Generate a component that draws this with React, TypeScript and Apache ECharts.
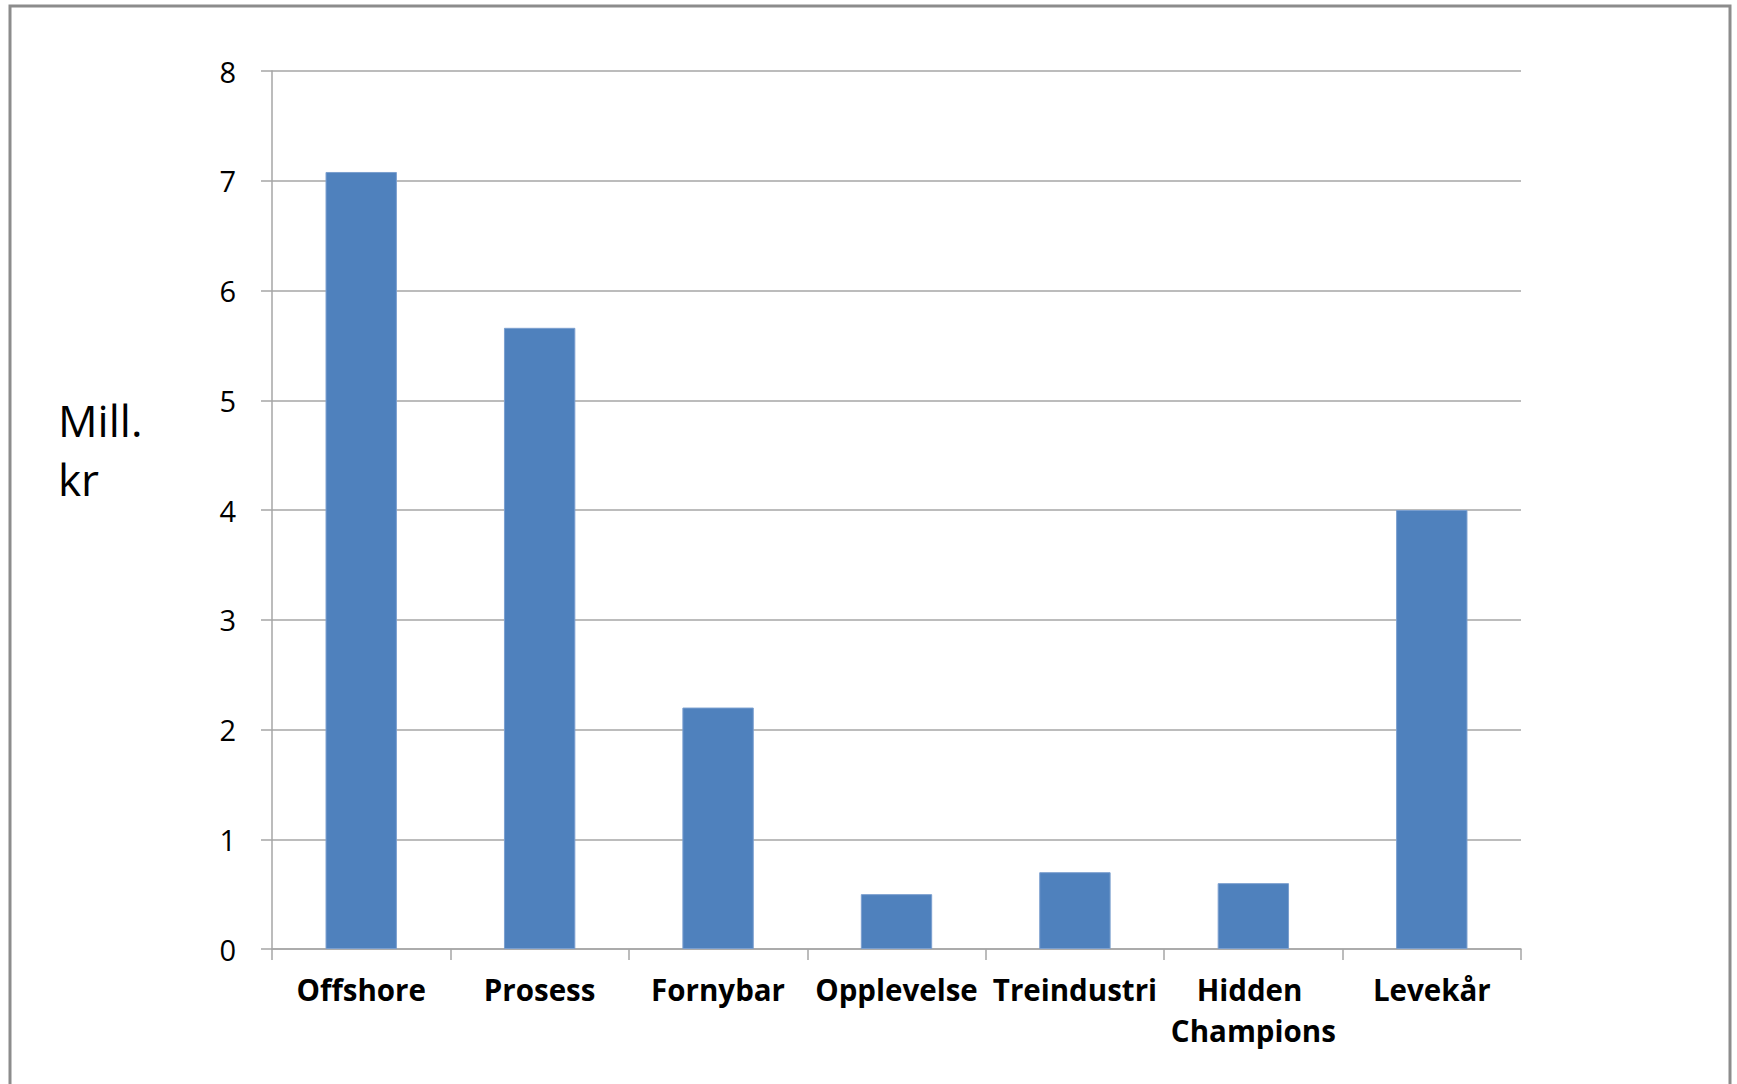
import React, { useEffect, useRef } from "react";
import * as echarts from "echarts";

const categories = ["Offshore", "Prosess", "Fornybar", "Opplevelse", "Treindustri", "Hidden Champions", "Levekår"];
const values = [7.08, 5.66, 2.2, 0.5, 0.7, 0.6, 4.0];
const yTicks = { min: 0, max: 8, interval: 1 };
const yLabelLines = ["Mill.", "kr"];

export default function App() {
  const ref = useRef<HTMLDivElement>(null);
  useEffect(() => {
    document.body.style.margin = "0";
    const chart = echarts.init(ref.current!, undefined, { renderer: "svg" });
    const font = "'Open Sans', 'Noto Sans', sans-serif";
    chart.setOption({
      animation: false,
      backgroundColor: "#ffffff",
      textStyle: { fontFamily: font },
      grid: { left: 272, right: 216, top: 71, bottom: 135, containLabel: false },
      graphic: [
        {
          type: "rect",
          shape: { x: 10, y: 6, width: 1720, height: 1120 },
          style: { fill: "none", stroke: "#8c8c8c", lineWidth: 3 },
          silent: true,
        },
        {
          type: "text",
          x: 58,
          y: 420,
          style: { text: yLabelLines[0], font: `44px ${font}`, fill: "#000", textVerticalAlign: "middle", textAlign: "left" },
        },
        {
          type: "text",
          x: 58,
          y: 479,
          style: { text: yLabelLines[1], font: `44px ${font}`, fill: "#000", textVerticalAlign: "middle", textAlign: "left" },
        },
      ],
      xAxis: {
        type: "category",
        data: categories,
        axisLine: { show: true, lineStyle: { color: "#a6a6a6", width: 1.5 } },
        axisTick: { show: true, length: 11, lineStyle: { color: "#a6a6a6", width: 1.5 } },
        axisLabel: {
          interval: 0,
          margin: 20,
          color: "#000",
          fontFamily: font,
          fontWeight: "bold",
          fontSize: 29.5,
          lineHeight: 41,
          width: 176,
          overflow: "break",
        },
        splitLine: { show: false },
      },
      yAxis: {
        type: "value",
        min: yTicks.min,
        max: yTicks.max,
        interval: yTicks.interval,
        axisLine: { show: true, lineStyle: { color: "#a6a6a6", width: 1.5 } },
        axisTick: { show: true, length: 11, lineStyle: { color: "#a6a6a6", width: 1.5 } },
        axisLabel: { margin: 36, color: "#000", fontFamily: font, fontSize: 29 },
        splitLine: { show: true, lineStyle: { color: "#a6a6a6", width: 1.5 } },
      },
      series: [
        {
          type: "bar",
          data: values,
          barCategoryGap: "60%",
          itemStyle: { color: "#4F81BD", borderColor: "#7b9fcf", borderWidth: 1 },
        },
      ],
    });
    return () => chart.dispose();
  }, []);
  return <div ref={ref} style={{ width: 1737, height: 1084 }} />;
}
